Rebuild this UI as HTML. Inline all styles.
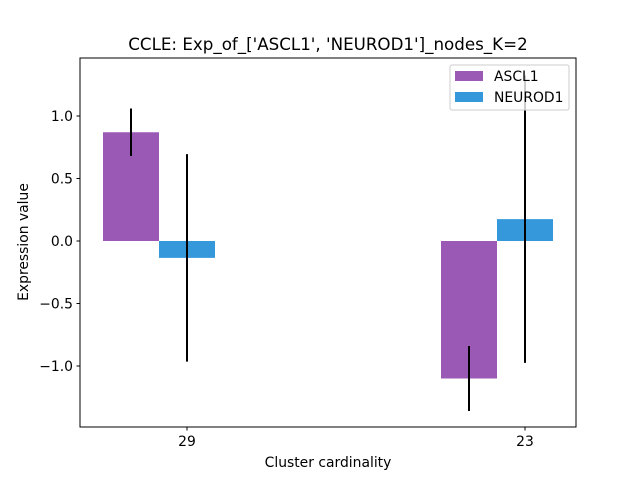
<!DOCTYPE html>
<html><head><meta charset="utf-8"><style>
body{margin:0;background:#fff;}
svg text{font-family:"DejaVu Sans","Liberation Sans",sans-serif;}
</style></head><body>
<svg id="chart" width="640" height="480" viewBox="0 0 640 480"></svg>
<script>
const categories = ["29","23"];
const seriesNames = ["ASCL1","NEUROD1"];
const ascl1Values = [0.87, -1.10];
const neurod1Values = [-0.135, 0.175];
const ascl1Errors = [0.19, 0.26];
const neurod1Errors = [0.83, 1.15];
const yTickLabels = ["−1.0","−0.5","0.0","0.5","1.0"];
const yTickValues = [-1.0,-0.5,0.0,0.5,1.0];

const colors = ["#9b59b6","#3498db"];
const L=80,R=576,T=58,B=427;
const yMin=-1.488,yMax=1.464;
const yS=v=>B-(v-yMin)/(yMax-yMin)*(B-T);
const xS=i=>187+i*338;
const barW=56;
const FS=13.9;
const svg=document.getElementById('chart');
const NS="http://www.w3.org/2000/svg";
function mk(tag,attrs,parent){const e=document.createElementNS(NS,tag);for(const k in attrs)e.setAttribute(k,attrs[k]);(parent||svg).appendChild(e);return e;}

const allVals=[ascl1Values,neurod1Values], allErr=[ascl1Errors,neurod1Errors];
const off=s=>s===0?-1.5*barW:-0.5*barW;
categories.forEach((c,i)=>{
  allVals.forEach((vals,s)=>{
    const v=vals[i];
    const x=xS(i)+off(s);
    const y1=yS(Math.max(v,0)), y2=yS(Math.min(v,0));
    const r=mk('rect',{x:x,y:y1,width:barW,height:y2-y1,fill:colors[s]});
    
    
  });
});
categories.forEach((c,i)=>{
  allVals.forEach((vals,s)=>{
    const v=vals[i],e=allErr[s][i];
    const cx=xS(i)+off(s)+barW/2;
    const l=mk('line',{x1:cx,x2:cx,y1:yS(v+e),y2:yS(v-e),stroke:'#000','stroke-width':2});
    
    
  });
});
const frame=mk('rect',{x:L,y:T,width:R-L,height:B-T,fill:'none',stroke:'#000','stroke-width':1});


yTickValues.forEach((v,i)=>{
  const y=yS(v);
  mk('line',{x1:L-3.5,x2:L,y1:y,y2:y,stroke:'#000'});
  const t=mk('text',{x:L-7,y:y+5,'text-anchor':'end','font-size':FS});
  t.textContent=yTickLabels[i];
  
  
});
categories.forEach((c,i)=>{
  const x=xS(i);
  mk('line',{x1:x,x2:x,y1:B,y2:B+3.5,stroke:'#000'});
  const t=mk('text',{x:x,y:B+19,'text-anchor':'middle','font-size':FS});
  t.textContent=c;
  
  
});
let t=mk('text',{x:328,y:467,'text-anchor':'middle','font-size':FS});t.textContent="Cluster cardinality";


t=mk('text',{x:28,y:242,'text-anchor':'middle','font-size':FS,transform:'rotate(-90 28 242)'});t.textContent="Expression value";


t=mk('text',{x:328,y:50,'text-anchor':'middle','font-size':16.7});t.textContent="CCLE: Exp_of_['ASCL1', 'NEUROD1']_nodes_K=2";


const lg=mk('g',{});


mk('rect',{x:450,y:65,width:119,height:45,rx:2,fill:'#fff','fill-opacity':0.8,stroke:'#ccc'},lg);
seriesNames.forEach((n,s)=>{
  const y=71+s*21;
  mk('rect',{x:455,y:y,width:28,height:10,fill:colors[s]},lg);
  const tt=mk('text',{x:494,y:y+10,'font-size':FS},lg);tt.textContent=n;
  
  
});
</script>
</body></html>
